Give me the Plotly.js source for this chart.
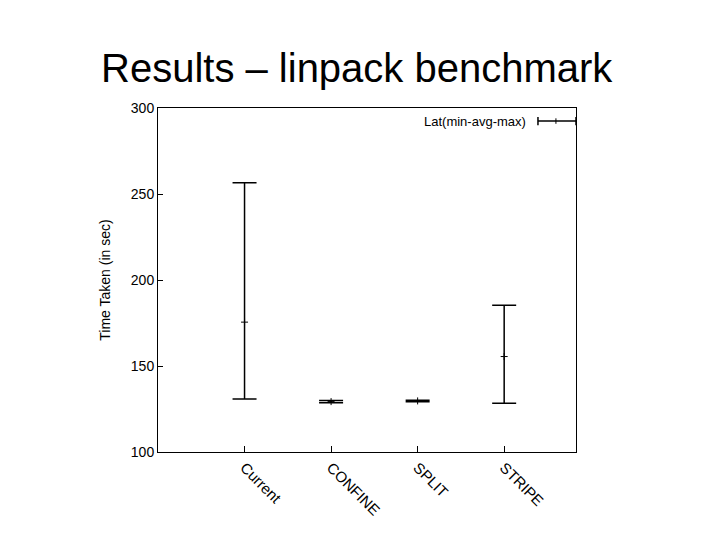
<!DOCTYPE html>
<html>
<head>
<meta charset="utf-8">
<script src="https://cdn.plot.ly/plotly-3.0.1.min.js"></script>
<style>html,body{margin:0;padding:0;background:#fff;}#chart{width:728px;height:546px;}</style>
</head>
<body>
<div id="chart"></div>
<script>
const categories = ["Current", "CONFINE", "SPLIT", "STRIPE"];
const xPos = [1, 2, 3, 4];
const minVals = [130.8, 128.7, 129.2, 128.3];
const avgVals = [175.5, 129.3, 129.7, 155.5];
const maxVals = [256.5, 130.0, 130.1, 185.3];
const legendLabel = "Lat(min-avg-max)";

const errPlus = avgVals.map((a, i) => maxVals[i] - a);
const errMinus = avgVals.map((a, i) => a - minVals[i]);

const font = "Liberation Sans, Arial, sans-serif";

const trace = {
  type: "scatter",
  mode: "markers",
  x: xPos,
  y: avgVals,
  marker: {symbol: "cross-thin-open", size: 5, color: "#000", line: {color: "#000", width: 1}},
  error_y: {type: "data", symmetric: false, array: errPlus, arrayminus: errMinus,
            color: "#000", thickness: 1.5, width: 12},
  showlegend: false,
  hoverinfo: "skip"
};

// legend sample positions (paper coords)
const ly = 0.962, lx0 = 0.909, lx1 = 1.0, lxm = 0.952, cap = 0.012;

const layout = {
  width: 728, height: 546,
  paper_bgcolor: "#fff", plot_bgcolor: "#fff",
  margin: {l: 158, r: 152, t: 108, b: 94},
  font: {family: font, color: "#000", size: 13},
  showlegend: false,
  xaxis: {
    range: [0, 4.83],
    tickvals: xPos, ticktext: categories,
    tickangle: 45,
    ticks: "inside", ticklen: 6, tickcolor: "#000", tickwidth: 1,
    showline: true, linecolor: "#000", linewidth: 1, mirror: true,
    showgrid: false, zeroline: false,
    tickfont: {family: font, size: 15, color: "#000"}
  },
  yaxis: {
    range: [100, 300],
    tickvals: [100, 150, 200, 250, 300],
    ticks: "inside", ticklen: 5, tickcolor: "#000", tickwidth: 1,
    showline: true, linecolor: "#000", linewidth: 1, mirror: true,
    showgrid: false, zeroline: false,
    tickfont: {family: font, size: 14, color: "#000"},
    title: {text: "Time Taken (in sec)", font: {family: font, size: 14, color: "#000"}, standoff: 16}
  },
  annotations: [
    {text: "Results – linpack benchmark", xref: "paper", yref: "paper",
     x: 0.475, y: 1.046, xanchor: "center", yanchor: "bottom", showarrow: false,
     font: {family: font, size: 40, color: "#000"}},
    {text: legendLabel, xref: "paper", yref: "paper", x: 0.886, y: ly,
     xanchor: "right", yanchor: "middle", showarrow: false,
     font: {family: font, size: 13, color: "#000"}}
  ],
  shapes: [
    {type: "line", xref: "paper", yref: "paper", x0: lx0, x1: lx1, y0: ly, y1: ly, line: {color: "#000", width: 1.5}},
    {type: "line", xref: "paper", yref: "paper", x0: lx0, x1: lx0, y0: ly - cap, y1: ly + cap, line: {color: "#000", width: 1.5}},
    {type: "line", xref: "paper", yref: "paper", x0: lx1, x1: lx1, y0: ly - cap, y1: ly + cap, line: {color: "#000", width: 1.5}},
    {type: "line", xref: "paper", yref: "paper", x0: lxm, x1: lxm, y0: ly - 0.008, y1: ly + 0.008, line: {color: "#000", width: 1}}
  ]
};

Plotly.newPlot("chart", [trace], layout, {displayModeBar: false, staticPlot: true});
</script>
</body>
</html>
